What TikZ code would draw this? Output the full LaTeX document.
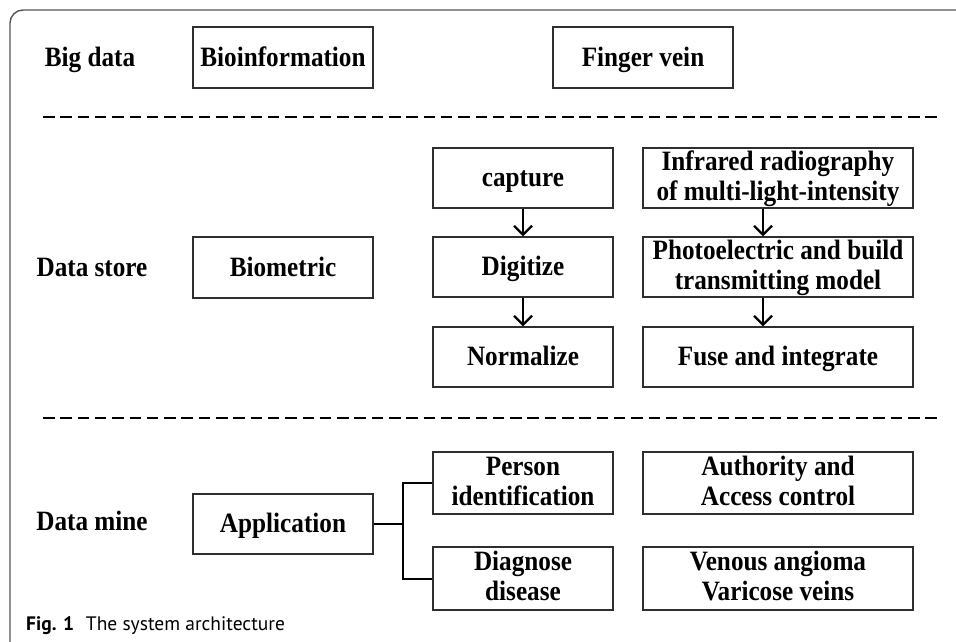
\documentclass[tikz,border=0pt]{standalone}
\usepackage{fontspec}
\setmainfont{Liberation Serif}[FakeStretch=0.9]
\newfontfamily\capfont{PT Sans}
\usetikzlibrary{arrows.meta}
\definecolor{boxgray}{HTML}{2E2E2E}
\definecolor{framegray}{HTML}{555555}
\tikzset{
  box/.style={draw=boxgray, line width=1.4pt, align=center, inner sep=0pt,
    font=\fontsize{28}{30}\selectfont\bfseries},
  oneline/.style={text height=20pt, text depth=3pt},
  twoline/.style={text height=47pt, text depth=3pt},
  narrowbox/.style={box, minimum width=180pt},
  widebox/.style={box, minimum width=270pt},
  rowlabel/.style={font=\fontsize{28}{30}\selectfont\bfseries, inner sep=0pt, text height=20pt, text depth=3pt},
  arr/.style={line width=2.2pt, -{Straight Barb[length=9pt,width=18pt]}},
  link/.style={line width=2pt},
  dashline/.style={line width=2.2pt, dash pattern=on 11.5pt off 5.8pt},
  frame/.style={draw=framegray, line width=1.4pt, rounded corners=13pt}
}
\begin{document}
\begin{tikzpicture}[x=1pt,y=-1pt]
\useasboundingbox (0,0) rectangle (956,641);
% frame
\draw[frame] (960,10) -- (10,10) -- (10,645);
% row labels
\node[rowlabel] (lbig) at (90,57.5) {Big data};
\node[rowlabel] (lstore) at (92,267.5) {Data store};
\node[rowlabel] (lmine) at (92,522) {Data mine};
% row 1
\node[narrowbox, oneline, minimum height=61pt] (bioinfo) at (283,57.5) {Bioinformation};
\node[narrowbox, oneline, minimum height=61pt] (finger) at (643,57.5) {Finger vein};
% dashed separators
\draw[dashline] (43,117) -- (941,117);
\draw[dashline] (43,418) -- (941,418);
% row 2
\node[narrowbox, oneline, minimum height=61pt] (biometric) at (283,267.5) {Biometric};
\node[narrowbox, oneline, minimum height=60pt] (capture) at (523,178) {capture};
\node[narrowbox, oneline, minimum height=60pt] (digitize) at (523,267) {Digitize};
\node[narrowbox, oneline, minimum height=60pt] (normalize) at (523,357) {Normalize};
\node[widebox, twoline, minimum height=60pt] (infrared) at (778,178) {Infrared radiography\\of multi-light-intensity};
\node[widebox, twoline, minimum height=60pt] (photo) at (778,267) {Photoelectric and build\\transmitting model};
\node[widebox, oneline, minimum height=60pt] (fuse) at (778,357) {Fuse and integrate};
\draw[arr] (capture.south) -- (digitize.north);
\draw[arr] (digitize.south) -- (normalize.north);
\draw[arr] ([xshift=-15pt]infrared.south) -- ([xshift=-15pt]photo.north);
\draw[arr] ([xshift=-15pt]photo.south) -- ([xshift=-15pt]fuse.north);
% row 3
\node[narrowbox, oneline, minimum height=60pt] (application) at (283,524) {Application};
\node[narrowbox, twoline, minimum height=62pt] (person) at (523,483) {Person\\identification};
\node[narrowbox, twoline, minimum height=63pt] (diagnose) at (523,578.5) {Diagnose\\disease};
\node[widebox, twoline, minimum height=62pt] (authority) at (778,483) {Authority and\\Access control};
\node[widebox, twoline, minimum height=63pt] (venous) at (778,578.5) {Venous angioma\\Varicose veins};
\coordinate (branch) at (403,524);
\draw[link] (application.east) -- (branch);
\draw[link] (person.west) -| (branch) |- (diagnose.west);
% caption
\node[anchor=base west, inner sep=0pt, font=\capfont\fontsize{19.5}{21}\selectfont] (caption) at (26,630) {\textbf{Fig. 1}\hspace{0.6em}The system architecture};
\end{tikzpicture}
\end{document}
